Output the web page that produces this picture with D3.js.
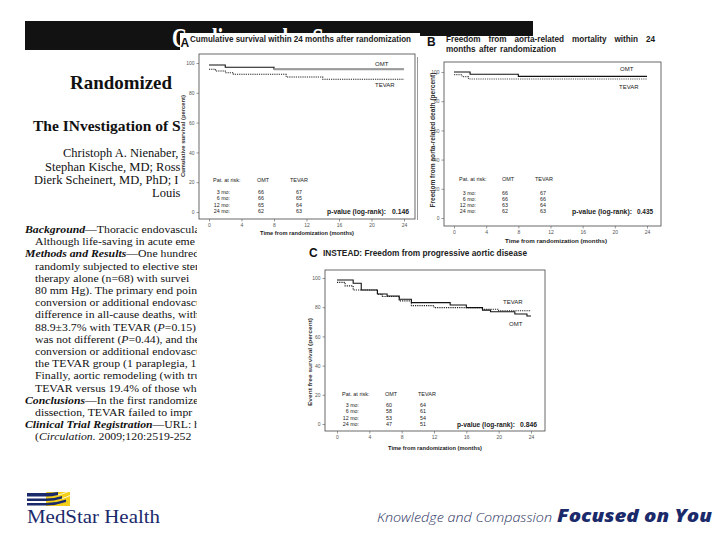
<!DOCTYPE html>
<html><head><meta charset="utf-8">
<script src="https://cdn.jsdelivr.net/npm/d3@7"></script>
<style>body{margin:0;background:#fff}svg{display:block}</style>
</head><body>
<svg id="c" width="720" height="540"></svg>
<script>
// ---------- data ----------
const months = [0, 4, 8, 12, 16, 20, 24];
const survivalTicks = [0, 20, 40, 60, 80, 100];
const riskRows = ["3 mo:", "6 mo:", "12 mo:", "24 mo:"];
const groups = ["OMT", "TEVAR"];

const aOmt = [[0, 98.7], [2, 97.1], [8, 95.8], [24, 95.8]];
const aTevar = [[0, 95.8], [0.8, 94.6], [2, 93.5], [3, 92.4], [9.5, 90.6], [14, 89.1], [24, 89.1]];
const aRiskOmt = [66, 66, 65, 62];
const aRiskTevar = [67, 65, 64, 63];
const aP = "0.146";

const bOmt = [[0, 100], [2, 98.5], [8, 97.0], [24, 97.0]];
const bTevar = [[0, 98.2], [1, 96.8], [1.8, 95.2], [24, 95.2]];
const bRiskOmt = [66, 66, 63, 62];
const bRiskTevar = [67, 66, 64, 63];
const bP = "0.435";

const cOmt = [[0, 98.6], [2, 96.4], [3, 91.8], [5, 89], [6.2, 87.7], [7.7, 85.4], [9.2, 83.1], [14, 81.5], [16, 79.7], [18, 78], [19, 76.9], [22, 75.3], [23.5, 74], [24, 74]];
const cTevar = [[0, 97], [1, 94.6], [2, 91.8], [5, 88.9], [5.6, 87.3], [7.7, 84.3], [9.2, 81.1], [12, 79.7], [18, 78.6], [20, 77.6], [24, 77.6]];
const cRiskOmt = [60, 58, 53, 47];
const cRiskTevar = [64, 61, 54, 51];
const cP = "0.846";

// ---------- drawing ----------
const svg = d3.select("#c");
const SANS = "Liberation Sans, Arial, sans-serif";
const SERIF = "Liberation Serif, Times New Roman, serif";
const defs = svg.append("defs");
defs.append("clipPath").attr("id", "clipAuth").append("rect").attr("x", 0).attr("y", 0).attr("width", 185).attr("height", 220);
defs.append("clipPath").attr("id", "clipAbs").append("rect").attr("x", 0).attr("y", 215).attr("width", 197).attr("height", 240);
defs.append("clipPath").attr("id", "clipHead").append("rect").attr("x", 25).attr("y", 21).attr("width", 508).attr("height", 29);

// header bar + title
svg.append("rect").attr("x", 25).attr("y", 21).attr("width", 508).attr("height", 29).attr("fill", "#121212");
svg.append("g").attr("clip-path", "url(#clipHead)").append("text").attr("x", 172).attr("y", 47).attr("font-family", SERIF).attr("font-weight", "bold")
  .attr("font-size", 27).attr("fill", "#fff").attr("textLength", 211).attr("lengthAdjust", "spacingAndGlyphs")
  .text("Cardiovascular Surgery");
svg.append("rect").attr("x", 180).attr("y", 33).attr("width", 240).attr("height", 20).attr("fill", "#fff");
svg.append("rect").attr("x", 420).attr("y", 36).attr("width", 120).attr("height", 20).attr("fill", "#fff");

// article page text
const auth = svg.append("g").attr("clip-path", "url(#clipAuth)").attr("font-family", SERIF).attr("fill", "#111");
auth.append("text").attr("x", 70).attr("y", 89).attr("font-size", 19).attr("font-weight", "bold").attr("textLength", 102).attr("lengthAdjust", "spacingAndGlyphs").text("Randomized");
auth.append("text").attr("x", 33).attr("y", 131).attr("font-size", 15.5).attr("font-weight", "bold").text("The INvestigation of S");
const authorLines = [[63, 157, "Christoph A. Nienaber,"], [45, 171, "Stephan Kische, MD; Ross"], [34, 184, "Dierk Scheinert, MD, PhD; I"], [152, 197, "Louis "]];
authorLines.forEach(l => auth.append("text").attr("x", l[0]).attr("y", l[1]).attr("font-size", 12.5).text(l[2]));

const abs = svg.append("g").attr("clip-path", "url(#clipAbs)").attr("font-family", SERIF).attr("fill", "#111").attr("font-size", 10.8);
const absLines = [
  [25, [["Background", "bi"], ["\u2014Thoracic endovascula", ""]]],
  [35, [["Although life-saving in acute eme", ""]]],
  [25, [["Methods and Results", "bi"], ["\u2014One hundred", ""]]],
  [35, [["randomly subjected to elective sten", ""]]],
  [35, [["therapy alone (n=68) with survei", ""]]],
  [35, [["80 mm Hg). The primary end point", ""]]],
  [35, [["conversion or additional endovascu", ""]]],
  [35, [["difference in all-cause deaths, with", ""]]],
  [35, [["88.9\u00b13.7% with TEVAR (", ""], ["P", "i"], ["=0.15)", ""]]],
  [35, [["was not different (", ""], ["P", "i"], ["=0.44), and the", ""]]],
  [35, [["conversion or additional endovascul", ""]]],
  [35, [["the TEVAR group (1 paraplegia, 1", ""]]],
  [35, [["Finally, aortic remodeling (with true", ""]]],
  [35, [["TEVAR versus 19.4% of those wh", ""]]],
  [25, [["Conclusions", "bi"], ["\u2014In the first randomize", ""]]],
  [35, [["dissection, TEVAR failed to impr", ""]]],
  [25, [["Clinical Trial Registration", "bi"], ["\u2014URL: h", ""]]],
  [35, [["(", ""], ["Circulation.", "i"], [" 2009;120:2519-252", ""]]]
];
absLines.forEach((l, i) => {
  const t = abs.append("text").attr("x", 0).attr("y", 0)
    .attr("transform", `translate(${l[0]},${233 + i * 12.2}) scale(1.09,1)`);
  l[1].forEach(s => {
    const ts = t.append("tspan").text(s[0]);
    if (s[1].includes("i")) ts.attr("font-style", "italic");
    if (s[1].includes("b")) ts.attr("font-weight", "bold");
  });
});

// panel B image border
svg.append("line").attr("x1", 417.5).attr("x2", 417.5).attr("y1", 57).attr("y2", 220).attr("stroke", "#999").attr("stroke-width", 1);

function txt(g, x, y, s, o = {}) {
  const t = g.append("text").attr("x", x).attr("y", y).attr("font-family", SANS)
    .attr("font-size", o.size || 5.5).attr("fill", o.fill || "#1a1a1a").attr("dominant-baseline", "central")
    .attr("text-anchor", o.anchor || "start").text(s);
  if (o.bold) t.attr("font-weight", "bold");
  if (o.len) t.attr("textLength", o.len).attr("lengthAdjust", "spacingAndGlyphs");
  return t;
}

function drawPanel(p) {
  const g = svg.append("g");
  const x = d3.scaleLinear().domain([0, 24]).range(p.xr);
  const y = d3.scaleLinear().domain([0, 100]).range(p.yr);
  const [l, t, r, b] = p.box;
  g.append("rect").attr("x", l).attr("y", t).attr("width", r - l).attr("height", b - t)
    .attr("fill", "none").attr("stroke", "#444").attr("stroke-width", 0.8);
  const xa = g.append("g").attr("transform", `translate(0,${b})`)
    .call(d3.axisBottom(x).tickValues(months).tickSize(2.5).tickPadding(2));
  const ya = g.append("g").attr("transform", `translate(${l},0)`)
    .call(d3.axisLeft(y).tickValues(survivalTicks).tickSize(2.5).tickPadding(2));
  [xa, ya].forEach(a => {
    a.select(".domain").remove();
    a.selectAll("line").attr("stroke", "#555").attr("stroke-width", 0.6);
    a.selectAll("text").attr("font-family", SANS).attr("font-size", 5).attr("fill", "#555");
  });
  const line = d3.line().x(d => x(d[0])).y(d => y(d[1])).curve(d3.curveStepAfter);
  g.append("path").datum(p.tevar).attr("d", line).attr("fill", "none")
    .attr("stroke", p.tevarColor || "#222").attr("stroke-width", 1.1).attr("stroke-dasharray", "1.2,1");
  g.append("path").datum(p.omt).attr("d", line).attr("fill", "none")
    .attr("stroke", "#111").attr("stroke-width", 1.1);
  if (p.omtGrayFrom !== undefined) {
    g.append("path").datum(p.omt.filter(d => d[0] >= p.omtGrayFrom)).attr("d", line).attr("fill", "none")
      .attr("stroke", "#9a9a9a").attr("stroke-width", 2);
  }
  // series labels
  txt(g, p.omtLab[0], p.omtLab[1], groups[0], { size: 6 });
  txt(g, p.tevLab[0], p.tevLab[1], groups[1], { size: 6 });
  // risk table
  const rk = p.risk;
  txt(g, rk.x, rk.head, "Pat. at risk:", { size: 5.5 });
  txt(g, rk.omtH, rk.head, groups[0], { size: 5.5 });
  txt(g, rk.tevH, rk.head, groups[1], { size: 5.5 });
  riskRows.forEach((s, i) => {
    const yy = rk.row0 + i * rk.dy;
    txt(g, rk.rowEnd, yy, s, { size: 5.3, anchor: "end" });
    txt(g, rk.omtV, yy, p.riskOmt[i], { size: 5.3, anchor: "middle" });
    txt(g, rk.tevV, yy, p.riskTevar[i], { size: 5.3, anchor: "middle" });
  });
  // p-value
  txt(g, p.pv[0], p.pv[2], "p-value (log-rank):", { size: 6.3, bold: true, len: p.pv[1] - p.pv[0] });
  txt(g, p.pv[3], p.pv[2], p.pval, { size: 6.3, bold: true, len: p.pv[4] - p.pv[3] });
  // axis titles
  txt(g, p.xt[0], p.xt[1], "Time from randomization (months)", { size: 6.2, bold: true, anchor: "middle", len: p.xt[2] });
  g.append("text").attr("transform", `translate(${p.yt[0]},${p.yt[1]}) rotate(-90)`)
    .attr("font-family", SANS).attr("font-size", p.yt[3]).attr("font-weight", "bold").attr("fill", "#333")
    .attr("text-anchor", "middle").attr("dominant-baseline", "central")
    .attr("textLength", p.yt[2]).attr("lengthAdjust", "spacingAndGlyphs").text(p.ytitle);
  return g;
}

// Panel A
const gA = drawPanel({
  xr: [209, 404], yr: [212, 63], box: [199, 54, 415, 219],
  omt: aOmt, tevar: aTevar, omtGrayFrom: 8, riskOmt: aRiskOmt, riskTevar: aRiskTevar, pval: aP,
  omtLab: [375, 64], tevLab: [375, 85],
  risk: { x: 213, head: 180, omtH: 257, tevH: 290, rowEnd: 230, omtV: 261, tevV: 299, row0: 192, dy: 6.3 },
  pv: [327, 386, 211, 392, 409], xt: [307, 232, 94], yt: [183, 136, 82, 5.5], ytitle: "Cumulative survival (percent)"
});
txt(gA, 180.5, 43, "A", { size: 12, bold: true, fill: "#111" });
txt(gA, 190, 39, "Cumulative survival within 24 months after randomization", { size: 8.5, bold: true, len: 221, fill: "#222" });

// Panel B
const gB = drawPanel({
  xr: [454, 647], yr: [218, 72], box: [444, 62, 661, 226],
  omt: bOmt, tevar: bTevar, tevarColor: "#555", riskOmt: bRiskOmt, riskTevar: bRiskTevar, pval: bP,
  omtLab: [620, 69], tevLab: [619, 87],
  risk: { x: 459, head: 179, omtH: 502, tevH: 535, rowEnd: 476, omtV: 505, tevV: 543, row0: 193, dy: 6 },
  pv: [572, 632, 211, 637, 653], xt: [556, 240, 102], yt: [432, 140, 135, 6.3], ytitle: "Freedom from aorta-related death (percent)"
});
txt(gB, 427, 42, "B", { size: 12, bold: true, fill: "#111" });
function justify(g, words, x0, x1, y, size) {
  const ts = words.map(w => txt(g, 0, y, w, { size: size, bold: true }));
  const ws = ts.map(t => t.node().getComputedTextLength());
  const gap = (x1 - x0 - d3.sum(ws)) / (words.length - 1);
  let cx = x0;
  ts.forEach((t, i) => { t.attr("x", cx); cx += ws[i] + gap; });
}
justify(gB, ["Freedom", "from", "aorta-related", "mortality", "within", "24"], 446, 655, 39, 8.2);
justify(gB, ["months", "after", "randomization"], 446, 556, 49, 8.2);

// Panel C
const gC = drawPanel({
  xr: [337, 531], yr: [424, 278], box: [325, 270, 545, 431],
  omt: cOmt, tevar: cTevar, riskOmt: cRiskOmt, riskTevar: cRiskTevar, pval: cP,
  omtLab: [509, 324], tevLab: [503, 302],
  risk: { x: 342, head: 394, omtH: 385, tevH: 418, rowEnd: 359, omtV: 389, tevV: 423, row0: 405, dy: 6.3 },
  pv: [457, 515, 424, 520, 537], xt: [435, 447, 94], yt: [310, 362, 88, 6], ytitle: "Event free survival (percent)"
});
txt(gC, 309, 253, "C", { size: 12, bold: true, fill: "#111" });
txt(gC, 323, 253, "INSTEAD: Freedom from progressive aortic disease", { size: 8.5, bold: true, len: 204, fill: "#222" });

// ---------- footer ----------
const NAVY = "#1b2a6b";
const logo = svg.append("g");
logo.append("rect").attr("x", 46).attr("y", 492).attr("width", 24).attr("height", 14).attr("fill", "#f4cf19");
logo.append("path").attr("d", "M27,493 L46,493 Q52,493 58,492 L58,495 Q52,496.5 46,496.5 L27,496.5 Z").attr("fill", NAVY);
logo.append("path").attr("d", "M27,498.5 L46,498.5 Q54,498.5 62,496 L62,498.5 Q54,501 46,501 L27,501 Z").attr("fill", NAVY);
logo.append("path").attr("d", "M27,503 L46,503 Q56,503 66,499.5 L66,502 Q56,505.5 46,505.5 L27,505.5 Z").attr("fill", NAVY);
logo.append("path").attr("d", "M58,495 Q64,493.5 70,491 M62,498.5 Q66,497.5 70,495.5").attr("stroke", "#fff").attr("stroke-width", 0.8).attr("fill", "none");
svg.append("text").attr("x", 27).attr("y", 523).attr("font-family", SERIF).attr("font-size", 18).attr("fill", NAVY)
  .attr("textLength", 133).attr("lengthAdjust", "spacingAndGlyphs").text("MedStar Health");
svg.append("text").attr("x", 377).attr("y", 522).attr("font-family", "Open Sans, sans-serif").attr("font-style", "italic")
  .attr("font-weight", 300).attr("font-size", 13.5).attr("fill", "#2b3262")
  .attr("textLength", 175).attr("lengthAdjust", "spacingAndGlyphs").text("Knowledge and Compassion");
svg.append("text").attr("x", 557).attr("y", 522).attr("font-family", "Open Sans, sans-serif").attr("font-style", "italic")
  .attr("font-weight", 800).attr("font-size", 17).attr("fill", NAVY)
  .attr("textLength", 155).attr("lengthAdjust", "spacingAndGlyphs").text("Focused on You");
</script>
</body></html>
